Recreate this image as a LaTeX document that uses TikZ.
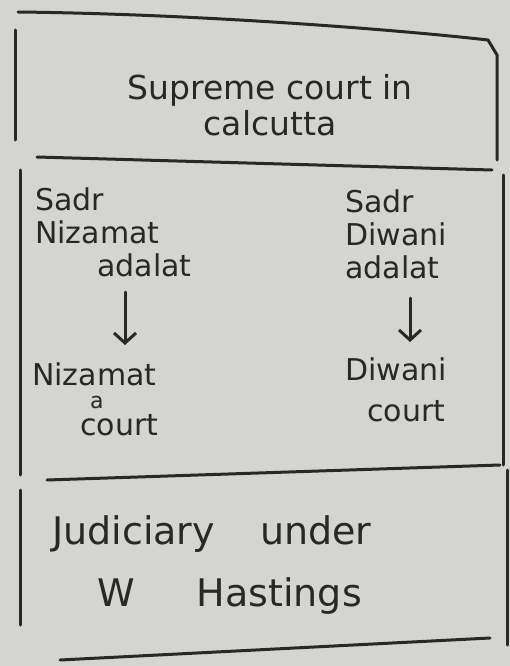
\documentclass[tikz,border=0pt]{standalone}
\usepackage{fontspec}
\setmainfont{DejaVu Sans}
\usetikzlibrary{arrows.meta}
\begin{document}
\begin{tikzpicture}[x=1pt,y=-1pt,
  ink/.style={draw=inkc,line width=3pt,line cap=round},
  lbl/.style={text=inkc,font=\fontsize{30}{33}\selectfont,align=left,inner sep=0pt},
  arr/.style={ink,->,>={Straight Barb[length=10pt,width=22pt,line width=3pt]}}]
\definecolor{paper}{RGB}{212,212,209}
\definecolor{inkc}{RGB}{40,40,40}
\fill[paper] (0,0) rectangle (510,666);
\useasboundingbox (0,0) rectangle (510,666);
% section 1
\draw[ink] (15,30) -- (15,140);
\draw[ink] (18,12) .. controls (200,14) and (400,30) .. (488,40) -- (497,55) -- (497,160);
\draw[ink] (37,157) -- (492,170);
% section 2
\draw[ink] (20,170) -- (20,475);
\draw[ink] (503,175) -- (503,465);
\draw[ink] (47,480) -- (500,465);
% section 3
\draw[ink] (20,490) -- (20,625);
\draw[ink] (507,470) -- (507,645);
\draw[ink] (60,660) -- (490,638);
% texts
\node[lbl,align=center,font=\fontsize{33}{36}\selectfont] (sc) at (270,105) {Supreme court in\\calcutta};
\node[lbl,anchor=north west] (sna) at (35,188) {Sadr\\Nizamat\\\hspace*{62pt}adalat};
\node[lbl,anchor=north west] (sda) at (345,190) {Sadr\\Diwani\\adalat};
\node[lbl,anchor=base west,text depth=0pt] (nc) at (32,385) {Nizamat};
\node[lbl,anchor=base west,font=\fontsize{22}{24}\selectfont,text height=12pt,text depth=0pt] (na) at (90,408) {a};
\node[lbl,anchor=base west,text height=22pt,text depth=0pt] (ncourt) at (80,435) {court};
\node[lbl,anchor=north west] (dc) at (345,358) {Diwani\\[8pt]\hspace*{22pt}court};
\node[lbl,anchor=north west,font=\fontsize{38}{62}\selectfont] (jh) at (52,515) {Judiciary\hspace{45pt}under\\\hspace*{45pt}W\hspace{62pt}Hastings};
\draw[arr] (125,292) -- (125,345);
\draw[arr] (410,298) -- (410,342);
\end{tikzpicture}
\end{document}
